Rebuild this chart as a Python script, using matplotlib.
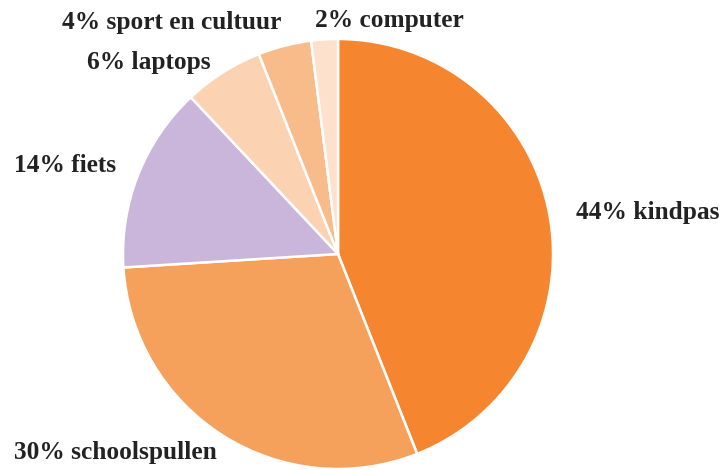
import matplotlib.pyplot as plt

labels = ["44% kindpas", "30% schoolspullen", "14% fiets", "6% laptops",
          "4% sport en cultuur", "2% computer"]
values = [44, 30, 14, 6, 4, 2]
colors = ["#F5862F", "#F6A15B", "#CAB6DA", "#FBD3B2", "#F8BB8A", "#FDE1CC"]

# label anchors in pixels (left edge, vertical centre)
label_px = [(576, 212), (14, 453), (14, 165), (87, 62), (62, 22), (315, 20)]

W, H = 724, 470
cx, cy, r = 338, 254, 215

fig = plt.figure(figsize=(W / 100, H / 100), dpi=100)
ax = fig.add_axes([0, 0, 1, 1])
ax.pie(values, colors=colors, startangle=90, counterclock=False, radius=1,
       wedgeprops=dict(edgecolor="white", linewidth=1.8))
ax.set_xlim(-cx / r, (W - cx) / r)
ax.set_ylim(-(H - cy) / r, cy / r)
ax.set_aspect("equal")
ax.axis("off")

for lab, (px, py) in zip(labels, label_px):
    ax.text((px - cx) / r, (cy - py) / r, lab, ha="left", va="center",
            fontsize=18.3, fontweight="bold", family="Liberation Serif", color="#222222")

fig.savefig("out.png", dpi=100)
